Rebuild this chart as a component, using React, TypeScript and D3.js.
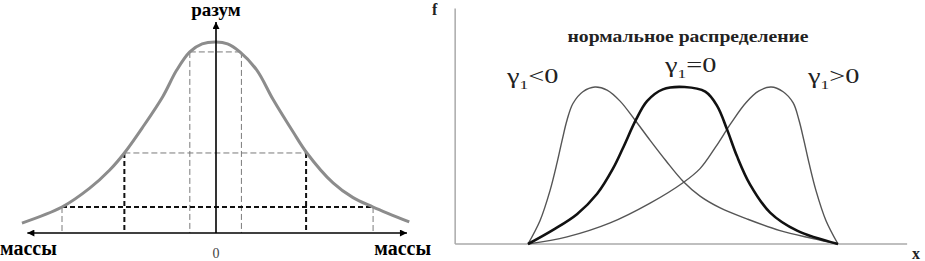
import * as d3 from "d3";

const W = 925;
const H = 261;

// left panel: bell curve, x in sigma units, y relative to the peak
const BELL: [number, number][] = [
  [-2.52, 0.052], [-2.0, 0.136], [-1.64, 0.235], [-1.38, 0.33], [-1.19, 0.419],
  [-0.95, 0.555], [-0.69, 0.715], [-0.51, 0.853], [-0.34, 0.948], [-0.18, 0.99],
  [0, 1.0], [0.15, 0.99], [0.31, 0.948], [0.53, 0.853], [0.74, 0.7], [1.0, 0.53],
  [1.18, 0.419], [1.52, 0.262], [1.78, 0.185], [2.04, 0.136], [2.51, 0.058],
];
const GUIDE_LEVELS = [0.948, 0.419, 0.136];
const GUIDE_X: [number, number][] = [[-0.34, 0.33], [-1.19, 1.17], [-2.0, 2.04]];
const LEFT_AXIS_X: [number, number] = [-2.45, 2.48];
const LEFT_AXIS_TOP = 1.105;

// right panel: three densities, x and y in 0..100
const SKEW_LEFT: [number, number][] = [
  [0, 0], [3.9, 15], [7.1, 34], [9.4, 52], [11, 66], [12.6, 79], [14.5, 89.5],
  [17.7, 97], [21.6, 100], [25.5, 98], [29.7, 91], [34.5, 79], [39.4, 66],
  [44.5, 53], [50, 40], [55.5, 30.5], [62, 23], [70.6, 16], [81.3, 8.5], [91.9, 3.5], [100, 0],
];
const NORMAL: [number, number][] = [
  [0, 0], [8.1, 9], [15.8, 19], [22.3, 32], [27.4, 48], [30.6, 61],
  [34.8, 79], [38.4, 91], [43.5, 98.5], [50.5, 100], [57.2, 97], [61, 88],
  [64.2, 73], [67.4, 56], [71.6, 38], [78.1, 20], [86.8, 8.5], [100, 0],
];
const SKEW_RIGHT: [number, number][] = [
  [0, 0], [12.6, 4.5], [26.5, 13.4], [39.4, 26], [50, 39], [55.5, 48],
  [60.6, 62], [65.5, 77], [70.3, 90], [74.5, 97.5], [78.4, 100], [82.3, 97],
  [85.5, 90], [87.4, 79], [89, 66], [90.6, 52], [92.9, 34], [96.1, 15], [100, 0],
];
const RIGHT_AXIS_X: [number, number] = [-23.5, 122.3];
const RIGHT_AXIS_TOP = 150;

const SERIF = "'Liberation Serif', 'Times New Roman', serif";

export default function App() {
  const xL = d3.scaleLinear().domain([-1, 1]).range([216 - 77, 216 + 77]);
  const yL = d3.scaleLinear().domain([0, 1]).range([233, 42]);
  const xR = d3.scaleLinear().domain([0, 100]).range([528, 838]);
  const yR = d3.scaleLinear().domain([0, 100]).range([244, 87]);

  const bell = d3.line<[number, number]>().x((d) => xL(d[0])).y((d) => yL(d[1])).curve(d3.curveCatmullRom.alpha(0.5));
  const dens = d3.line<[number, number]>().x((d) => xR(d[0])).y((d) => yR(d[1])).curve(d3.curveCatmullRom.alpha(0.5));

  const thin = { stroke: "#7a7a7a", strokeWidth: 1, strokeDasharray: "6 3" };
  const heavy = { stroke: "#111", strokeWidth: 2, strokeDasharray: "5 3" };
  const hStyle = [thin, thin, heavy];
  const vStyle = [thin, heavy, thin];

  const gamma = (x: number, y: number, rel: string, key: string) => (
    <g key={key} transform={`translate(${x},${y}) scale(1.35,1)`} fill="#222" fontFamily={SERIF}>
      <text fontSize={21}>
        γ<tspan fontSize={13} dy={6}>1</tspan>
        <tspan dy={-6}>{rel}</tspan>
      </text>
    </g>
  );

  return (
    <svg width={W} height={H} style={{ position: "absolute", left: 0, top: 0, background: "#fff" }}>
      <defs>
        <marker id="arr" viewBox="0 0 10 10" refX="10" refY="5" markerWidth="9" markerHeight="7"
          markerUnits="userSpaceOnUse" orient="auto-start-reverse">
          <path d="M0,0 L10,5 L0,10 z" fill="#000" />
        </marker>
      </defs>

      <g className="left-panel">
        {GUIDE_LEVELS.map((lvl, i) => {
          const [a, b] = GUIDE_X[i];
          return (
            <g key={i} fill="none">
              <line x1={xL(a)} x2={xL(b)} y1={yL(lvl)} y2={yL(lvl)} {...hStyle[i]} />
              <line x1={xL(a)} x2={xL(a)} y1={yL(lvl)} y2={yL(0)} {...vStyle[i]} />
              <line x1={xL(b)} x2={xL(b)} y1={yL(lvl)} y2={yL(0)} {...vStyle[i]} />
            </g>
          );
        })}
        <path d={bell(BELL) ?? ""} fill="none" stroke="#8c8c8c" strokeWidth={3} />
        <line x1={xL(LEFT_AXIS_X[0])} x2={xL(LEFT_AXIS_X[1])} y1={yL(0)} y2={yL(0)}
          stroke="#000" strokeWidth={1.6} markerStart="url(#arr)" markerEnd="url(#arr)" />
        <line x1={xL(0)} x2={xL(0)} y1={yL(0)} y2={yL(LEFT_AXIS_TOP)}
          stroke="#000" strokeWidth={1.6} markerEnd="url(#arr)" />
        <text x={xL(0)} y={16} textAnchor="middle" fontFamily={SERIF} fontWeight="bold" fontSize={19}>разум</text>
        <text x={0} y={255} fontFamily={SERIF} fontWeight="bold" fontSize={20}>массы</text>
        <text x={431} y={255} textAnchor="end" fontFamily={SERIF} fontWeight="bold" fontSize={20}>массы</text>
        <text x={xL(0)} y={258} textAnchor="middle" fontFamily={SERIF} fontSize={14} fill="#444">0</text>
      </g>

      <g className="right-panel">
        <line x1={xR(RIGHT_AXIS_X[0])} x2={xR(RIGHT_AXIS_X[0])} y1={yR(0)} y2={yR(RIGHT_AXIS_TOP)}
          stroke="#aaa" strokeWidth={1.5} />
        <line x1={xR(RIGHT_AXIS_X[0])} x2={xR(RIGHT_AXIS_X[1])} y1={yR(0)} y2={yR(0)}
          stroke="#aaa" strokeWidth={1.5} />
        <path d={dens(SKEW_LEFT) ?? ""} fill="none" stroke="#555" strokeWidth={1.4} />
        <path d={dens(SKEW_RIGHT) ?? ""} fill="none" stroke="#555" strokeWidth={1.4} />
        <path d={dens(NORMAL) ?? ""} fill="none" stroke="#111" strokeWidth={2.6} />
        <text x={432} y={15} fontFamily={SERIF} fontWeight="bold" fontSize={16} fill="#222">f</text>
        <text x={912} y={259} fontFamily={SERIF} fontWeight="bold" fontSize={16} fill="#222">x</text>
        <text x={688} y={42} textAnchor="middle" fontFamily={SERIF} fontWeight="bold" fontSize={16}
          textLength={241} lengthAdjust="spacingAndGlyphs" fill="#222">нормальное распределение</text>
        {gamma(507, 83, "<0", "neg")}
        {gamma(665, 72, "=0", "zero")}
        {gamma(808, 83, ">0", "pos")}
      </g>
    </svg>
  );
}
